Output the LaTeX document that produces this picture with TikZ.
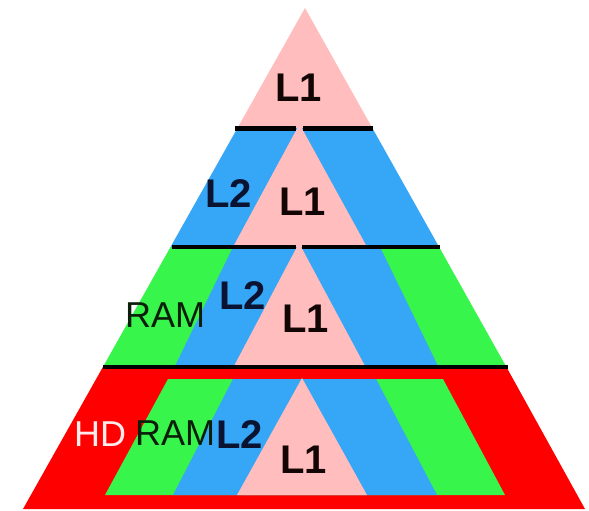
\documentclass[tikz,border=0pt]{standalone}
\usepackage{fontspec}
\setmainfont{Liberation Sans}
\definecolor{cachepink}{RGB}{255,189,189}
\definecolor{cacheblue}{RGB}{54,166,246}
\definecolor{ramgreen}{RGB}{56,245,76}
\definecolor{diskred}{RGB}{255,0,0}
\definecolor{navytext}{RGB}{10,20,50}
\definecolor{darktext}{RGB}{20,5,5}
\definecolor{greentext}{RGB}{10,30,10}
\definecolor{hdtext}{RGB}{255,235,235}
\tikzset{
  tier/.style={line width=4.5pt, black},
  lab/.style={anchor=base west, inner sep=0pt, font=\fontsize{40}{40}\selectfont\bfseries},
  labthin/.style={anchor=base west, inner sep=0pt, font=\fontsize{36}{36}\selectfont},
}
\begin{document}
\begin{tikzpicture}[x=1pt,y=-1pt]
\useasboundingbox (0,0) rectangle (589,511);
% tier 1: L1 only
\fill[cachepink] (305,8) -- (372.3,128) -- (237.5,128) -- cycle;
% tier 2: L2 around L1
\fill[cacheblue] (237.5,128) -- (372.3,128) -- (439.1,247) -- (170.5,247) -- cycle;
\fill[cachepink] (299.5,124) -- (367,247) -- (233,247) -- cycle;
% tier 3: RAM around L2 around L1
\fill[ramgreen] (170.5,247) -- (439.1,247) -- (506.4,367) -- (102.9,367) -- cycle;
\fill[cacheblue] (233,247) -- (380,247) -- (438,366) -- (175,366) -- cycle;
\fill[cachepink] (299,243) -- (365,366) -- (234,366) -- cycle;
% tier 4: HD around RAM around L2 around L1
\fill[diskred] (102.9,367) -- (506.4,367) -- (585,509) -- (23,509) -- cycle;
\fill[ramgreen] (168,379) -- (443,379) -- (505,495) -- (105,495) -- cycle;
\fill[cacheblue] (233,379) -- (376,379) -- (437,495) -- (173,495) -- cycle;
\fill[cachepink] (302,378) -- (367,495) -- (237,495) -- cycle;
% tier separators
\coordinate (s1a) at (235,128.5); \coordinate (s1b) at (296,128.5);
\coordinate (s1c) at (303,128.5); \coordinate (s1d) at (373,128.5);
\coordinate (s2a) at (172,247);   \coordinate (s2b) at (296,247);
\coordinate (s2c) at (302,247);   \coordinate (s2d) at (440,247);
\coordinate (s3a) at (103,367);   \coordinate (s3b) at (508,367);
\draw[tier] (s1a) -- (s1b) (s1c) -- (s1d);
\draw[tier] (s2a) -- (s2b) (s2c) -- (s2d);
\draw[tier] (s3a) -- (s3b);
% labels
\node[lab, text=darktext] (t1l1) at (275,102) {L1};
\node[lab, text=navytext] (t2l2) at (205,207) {L2};
\node[lab, text=darktext] (t2l1) at (279,215) {L1};
\node[labthin, text=greentext] (t3ram) at (125,327) {RAM};
\node[lab, text=navytext] (t3l2) at (219,309) {L2};
\node[lab, text=darktext] (t3l1) at (282,332) {L1};
\node[labthin, text=hdtext] (t4hd) at (74,446) {HD};
\node[labthin, text=greentext] (t4ram) at (135,445) {RAM};
\node[lab, text=navytext] (t4l2) at (216,448) {L2};
\node[lab, text=darktext] (t4l1) at (280,473) {L1};
\end{tikzpicture}
\end{document}
